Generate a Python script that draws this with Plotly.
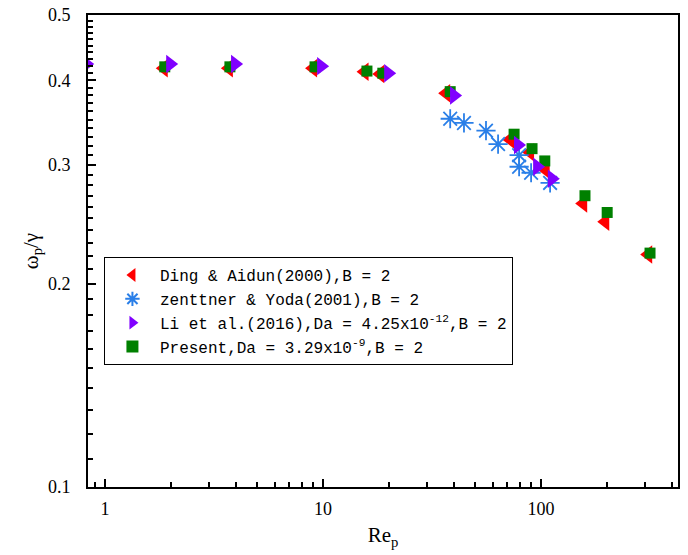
import plotly.graph_objects as go

# Ding & Aidun (2000)
ding_x = [1.86, 3.7, 9.0, 15.5, 18.3, 36.7, 72.1, 89, 105, 156, 197, 310]
ding_y = [0.417, 0.417, 0.417, 0.412, 0.409, 0.383, 0.327, 0.313, 0.295, 0.263, 0.247, 0.221]
# zenttner & Yoda (2001)
zen_x = [38.3, 44.3, 55.9, 63.5, 79.3, 79.3, 90, 110]
zen_y = [0.351, 0.346, 0.337, 0.322, 0.310, 0.298, 0.292, 0.282]
# Li et al. (2016)
li_x = [0.82, 1.99, 3.95, 9.8, 19.9, 39.9, 78.4, 95.9, 112]
li_y = [0.423, 0.423, 0.423, 0.420, 0.410, 0.380, 0.321, 0.298, 0.286]
# Present
pr_x = [1.88, 3.74, 9.19, 15.9, 18.8, 38.3, 75.2, 90.9, 104, 159, 201, 316]
pr_y = [0.419, 0.419, 0.419, 0.413, 0.410, 0.385, 0.333, 0.317, 0.304, 0.270, 0.255, 0.222]

x_major = [1, 10, 100]
x_labels = ["1", "10", "100"]
x_minor = [0.9, 2, 3, 4, 5, 6, 7, 8, 9, 20, 30, 40, 50, 60, 70, 80, 90, 200, 300, 400]
y_major = [0.1, 0.2, 0.3, 0.4, 0.5]
y_labels = ["0.1", "0.2", "0.3", "0.4", "0.5"]
y_minor = [round(0.1 + 0.01 * i, 2) for i in range(1, 40) if i % 10 != 0]

fig = go.Figure()
fig.add_trace(go.Scatter(x=ding_x, y=ding_y, mode="markers", name="Ding & Aidun(2000),B = 2",
                         legendrank=1,
                         marker=dict(symbol="triangle-left", size=16, color="#FF0000")))
fig.add_trace(go.Scatter(x=zen_x, y=zen_y, mode="markers", name="zenttner & Yoda(2001),B = 2",
                         legendrank=2,
                         marker=dict(symbol="asterisk-open", size=16, color="#2A7FE8",
                                     line=dict(color="#2A7FE8", width=1.8))))
fig.add_trace(go.Scatter(x=pr_x, y=pr_y, mode="markers",
                         name="Present,Da = 3.29x10<sup>-9</sup>,B = 2",
                         legendrank=4,
                         marker=dict(symbol="square", size=11, color="#008000")))
fig.add_trace(go.Scatter(x=li_x, y=li_y, mode="markers",
                         name="Li et al.(2016),Da = 4.25x10<sup>-12</sup>,B = 2",
                         legendrank=3,
                         marker=dict(symbol="triangle-right", size=16, color="#8000FF")))

axis_font = dict(family="Liberation Serif", size=18, color="black")

fig.update_layout(
    width=688, height=555,
    margin=dict(l=88, r=10, t=15, b=68, autoexpand=False),
    paper_bgcolor="white", plot_bgcolor="white",
    showlegend=True,
    legend=dict(x=0.027, y=0.487, xanchor="left", yanchor="top",
                bordercolor="black", borderwidth=1, bgcolor="white",
                font=dict(family="Liberation Mono", size=16, color="black"),
                tracegroupgap=0, itemsizing="constant", itemwidth=45),
    font=axis_font,
)
fig.update_xaxes(type="log", range=[-0.078, 2.628], automargin=True,
                 tickmode="array", tickvals=x_major, ticktext=x_labels,
                 ticks="inside", ticklen=8, tickwidth=1.5, tickcolor="black",
                 ticklabelstandoff=4,
                 showline=True, linecolor="black", linewidth=2, mirror=True,
                 showgrid=False, zeroline=False,
                 minor=dict(tickmode="array", tickvals=x_minor, ticks="inside",
                            ticklen=5, tickwidth=1.5, tickcolor="black", showgrid=False),
                 title=dict(text="Re<sub>p</sub>", font=dict(family="Liberation Serif", size=21),
                            standoff=10),
                 tickfont=axis_font)
fig.update_yaxes(type="log", range=[-1, -0.30103], automargin=True,
                 tickmode="array", tickvals=y_major, ticktext=y_labels,
                 ticks="inside", ticklen=8, tickwidth=1.5, tickcolor="black",
                 ticklabelstandoff=12,
                 showline=True, linecolor="black", linewidth=2, mirror=True,
                 showgrid=False, zeroline=False,
                 minor=dict(tickmode="array", tickvals=y_minor, ticks="inside",
                            ticklen=5, tickwidth=1.5, tickcolor="black", showgrid=False),
                 title=dict(text="ω<sub>p</sub>/γ", font=dict(family="Liberation Serif", size=21),
                            standoff=4),
                 tickfont=axis_font)

fig.write_html("out.html", config={"displayModeBar": False},
               post_script="document.body.style.margin='0';")
